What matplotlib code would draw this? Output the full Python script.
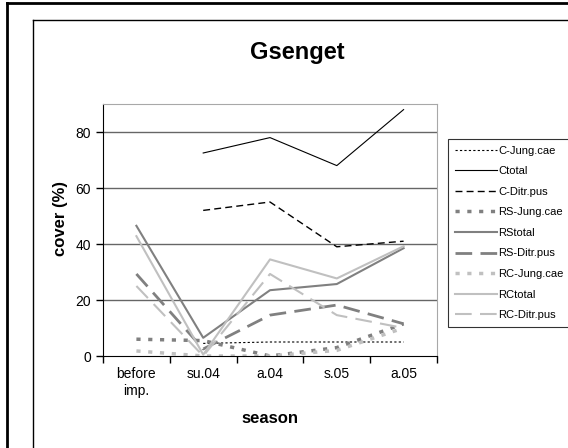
import matplotlib.pyplot as plt
import numpy as np

plt.rcParams['font.family'] = ['Liberation Sans', 'DejaVu Sans']

# dados
seasons = ['before\nimp.', 'su.04', 'a.04', 's.05', 'a.05']
nan = np.nan
c_jung = [nan, 4.5, 5, 5, 5]
c_total = [nan, 72.5, 78, 68, 88]
c_ditr = [nan, 52, 55, 39, 41]
rs_jung = [6, 5.5, 0, 3, 11.5]
rs_total = [46.5, 6.5, 23.5, 25.7, 38.5]
rs_ditr = [29.3, 2.5, 14.6, 18.2, 11.5]
rc_jung = [1.8, 0, 0, 2, 10]
rc_total = [42.8, 0.5, 34.5, 27.7, 39.2]
rc_ditr = [25, 0, 29.3, 14.6, 10]

fig = plt.figure(figsize=(5.68, 4.48), dpi=100)
ax = fig.add_axes([103/568, 1-356/448, 334/568, 252/448])

x = np.arange(len(seasons))
preto = 'black'
cinza = '#808080'
claro = '#c0c0c0'

ax.plot(x, c_jung, color=preto, lw=0.8, dashes=(2, 2), label='C-Jung.cae')
ax.plot(x, c_total, color=preto, lw=0.8, label='Ctotal')
ax.plot(x, c_ditr, color=preto, lw=1.0, dashes=(5, 3), label='C-Ditr.pus')
ax.plot(x, rs_jung, color=cinza, lw=2.5, dashes=(1.2, 2.2), dash_capstyle='butt', label='RS-Jung.cae')
ax.plot(x, rs_total, color=cinza, lw=1.5, label='RStotal')
ax.plot(x, rs_ditr, color=cinza, lw=2.0, dashes=(6, 3), label='RS-Ditr.pus')
ax.plot(x, rc_jung, color=claro, lw=2.5, dashes=(1.2, 2.2), dash_capstyle='butt', label='RC-Jung.cae')
ax.plot(x, rc_total, color=claro, lw=1.5, label='RCtotal')
ax.plot(x, rc_ditr, color=claro, lw=1.5, dashes=(8, 4), label='RC-Ditr.pus')

ax.set_xlim(-0.5, 4.5)
ax.set_ylim(0, 90)
ax.set_yticks([0, 20, 40, 60, 80])
ax.set_xticks(np.arange(-0.5, 5, 1))
ax.set_xticklabels([])
ax.set_xticks(x, minor=True)
ax.set_xticklabels(seasons, minor=True, fontsize=10, linespacing=1.3)
ax.tick_params(axis='x', which='minor', length=0, pad=8)
ax.tick_params(axis='x', which='major', length=5, direction='out', width=1)
ax.tick_params(axis='y', length=5, direction='out', labelsize=10, width=1)
for v in [20, 40, 60, 80]:
    ax.axhline(v, color='#666666', lw=1, zorder=0)
for s in ['top', 'right']:
    ax.spines[s].set_color('#a8a8a8')
for s in ['left', 'bottom']:
    ax.spines[s].set_color('black')

ax.set_ylabel('cover (%)', fontsize=12, fontweight='bold')
ax.set_xlabel('season', fontsize=12, fontweight='bold')
ax.yaxis.set_label_coords(60/568, 230/448, transform=fig.transFigure)
ax.xaxis.set_label_coords(270/568, 1-418/448, transform=fig.transFigure)
ax.xaxis.label.set_va('center')
ax.yaxis.label.set_va('center')

fig.text(297/568, 1-52/448, 'Gsenget', fontsize=17, fontweight='bold', ha='center', va='center')

leg = ax.legend(loc='upper left', bbox_to_anchor=(448/568, 1-139/448), bbox_transform=fig.transFigure,
                fontsize=8, frameon=True, fancybox=False, edgecolor='black', handlelength=3.8,
                handletextpad=0.1, labelspacing=0.95, borderpad=0.6, borderaxespad=0)
leg.get_frame().set_linewidth(0.8)

# molduras externas
fig.add_artist(plt.Line2D([7/568, 7/568], [0, 1-3/448], color='black', lw=2, transform=fig.transFigure))
fig.add_artist(plt.Line2D([7/568, 1], [1-3/448, 1-3/448], color='black', lw=2, transform=fig.transFigure))
fig.add_artist(plt.Line2D([33/568, 33/568], [0, 1-20/448], color='black', lw=1, transform=fig.transFigure))
fig.add_artist(plt.Line2D([33/568, 1], [1-20/448, 1-20/448], color='black', lw=1, transform=fig.transFigure))

fig.savefig('out.png', dpi=100)
